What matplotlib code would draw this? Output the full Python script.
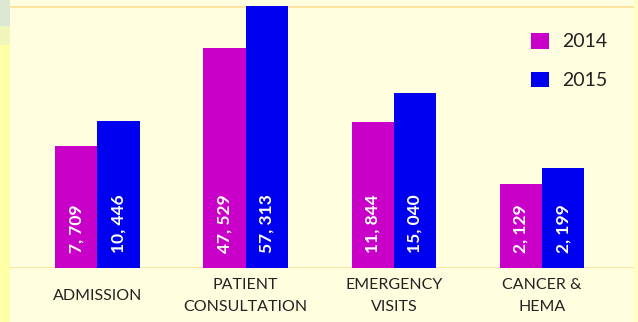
import matplotlib.pyplot as plt
from matplotlib.patches import Rectangle
from matplotlib.transforms import blended_transform_factory
import numpy as np

plt.rcParams['font.family'] = ['Lato', 'DejaVu Sans']

categories = ['ADMISSION', 'PATIENT\nCONSULTATION', 'EMERGENCY\nVISITS', 'CANCER &\nHEMA']
years = ['2014', '2015']
# bar heights as drawn in the picture (not proportional to the printed numbers)
heights_2014 = [122, 220, 146, 84]
heights_2015 = [147, 262, 175, 100]
labels_2014 = ['7, 709', '47, 529', '11, 844', '2, 129']
labels_2015 = ['10, 446', '57, 313', '15, 040', '2, 199']

c2014 = '#C800C8'
c2015 = '#0000F0'
bg = '#FFFFE0'

fig = plt.figure(figsize=(6.38, 3.22), dpi=100)
fig.patch.set_facecolor(bg)

# side strips
fig.patches.append(Rectangle((0, 0), 10/638, 1, transform=fig.transFigure,
                             facecolor='#FFFFA6', edgecolor='none', zorder=0))
fig.patches.append(Rectangle((0, 0.92), 10/638, 0.08, transform=fig.transFigure,
                             facecolor='#DDE8D2', edgecolor='none', zorder=0))
fig.patches.append(Rectangle((0, 0.86), 10/638, 0.06, transform=fig.transFigure,
                             facecolor='#F0F5BC', edgecolor='none', zorder=0))
fig.patches.append(Rectangle((634/638, 0), 4/638, 1, transform=fig.transFigure,
                             facecolor='#FFFFC2', edgecolor='none', zorder=0))

ax = fig.add_axes([10/638, 54/322, 624/638, 262/322])
ax.set_facecolor(bg)
for s in ax.spines.values():
    s.set_visible(False)

x = np.arange(len(categories))
w = 0.285
ax.bar(x - w/2, heights_2014, w, color=c2014, label=years[0], zorder=3)
ax.bar(x + w/2, heights_2015, w, color=c2015, label=years[1], zorder=3)

for xi, lab in zip(x - w/2, labels_2014):
    ax.text(xi, 15, lab, rotation=90, ha='center', va='bottom', color='white',
            fontsize=12.5, fontweight='bold', zorder=4)
for xi, lab in zip(x + w/2, labels_2015):
    ax.text(xi, 15, lab, rotation=90, ha='center', va='bottom', color='white',
            fontsize=12.5, fontweight='bold', zorder=4)

ax.axhline(0, color='#FFE0A0', lw=2, zorder=2)
ax.axhline(262, color='#FFE0A0', lw=2, zorder=2)

ax.set_xlim(-0.59, 3.62)
ax.set_ylim(0, 262)
ax.set_xticks([])
ax.set_yticks([])

tr = blended_transform_factory(ax.transData, ax.transAxes)
for xi, cat in zip(x, categories):
    ax.text(xi, -28/262, cat, ha='center', va='center', fontsize=11.5,
            color='#222222', linespacing=1.7, transform=tr, clip_on=False)

ax.legend(loc='upper left', bbox_to_anchor=(521/624, 1 - 27/262),
          frameon=False, fontsize=14, handlelength=0.95,
          handleheight=0.85, labelspacing=1.1, handletextpad=0.65,
          borderaxespad=0, borderpad=0, labelcolor='#222222')

fig.savefig('out.png', dpi=100, facecolor=fig.get_facecolor())
